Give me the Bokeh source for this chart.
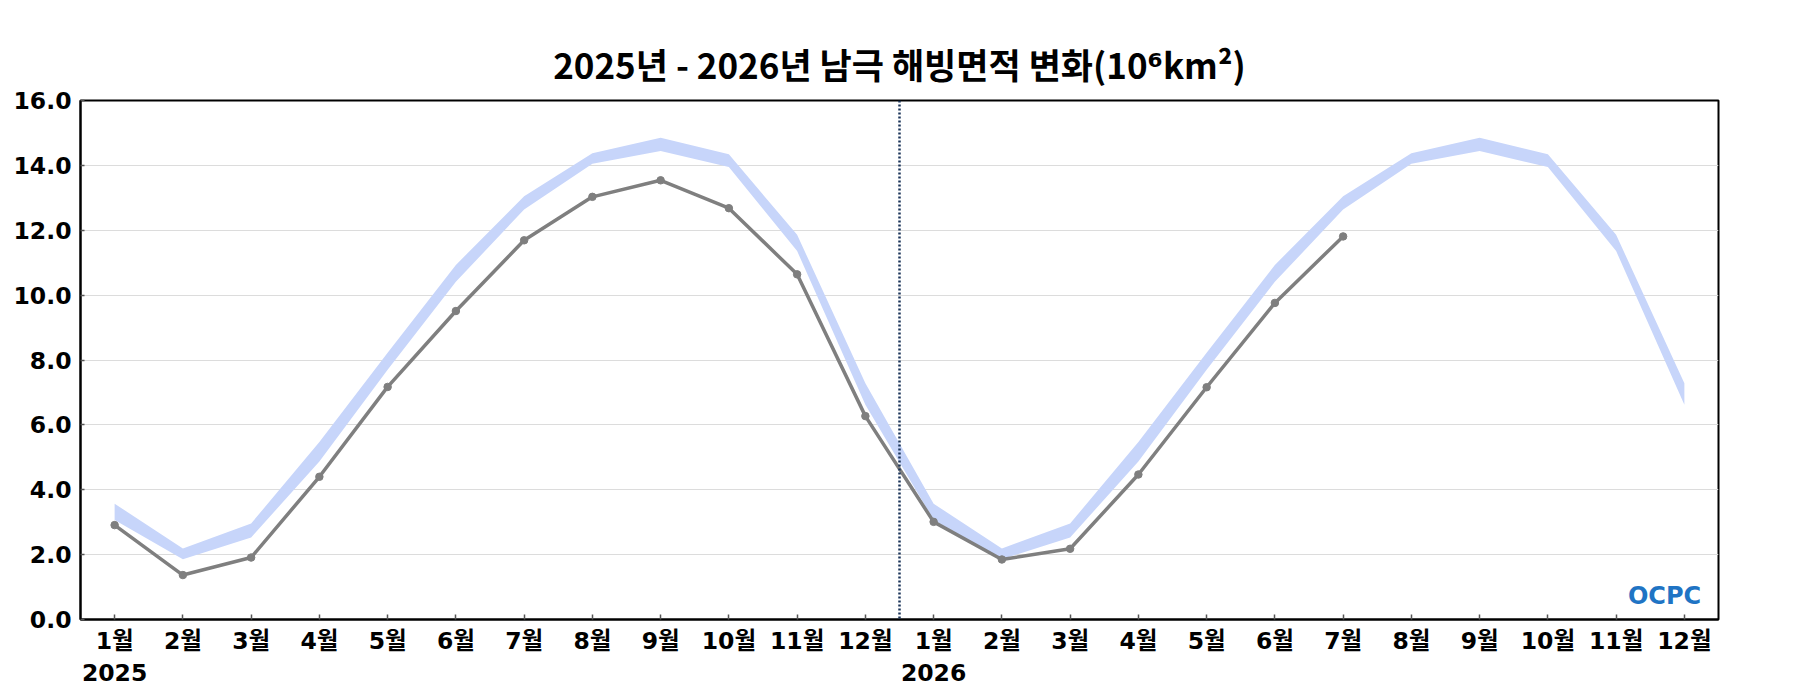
from bokeh.plotting import figure
from bokeh.models import (Range1d, FixedTicker, NumeralTickFormatter, Span, Label,
                          ColumnDataSource)
from bokeh.embed import file_html
from bokeh.resources import INLINE

# ---- data ----
month_labels = ["1월", "2월", "3월", "4월", "5월", "6월", "7월", "8월", "9월", "10월", "11월", "12월"]
years = ["2025", "2026"]

# climatological band (upper / lower edge), 10^6 km^2
band_upper_2025 = [3.57, 2.19, 2.96, 5.47, 8.22, 10.93, 13.05, 14.37, 14.85, 14.34, 11.86, 7.28]
band_lower_2025 = [3.07, 1.86, 2.53, 4.87, 7.70, 10.41, 12.64, 14.05, 14.44, 13.95, 11.36, 6.62]
band_upper_2026 = [3.57, 2.19, 2.96, 5.47, 8.22, 10.93, 13.05, 14.37, 14.85, 14.34, 11.86, 7.28]
band_lower_2026 = [3.07, 1.86, 2.53, 4.87, 7.70, 10.41, 12.64, 14.05, 14.44, 13.95, 11.36, 6.62]

# observed sea ice extent
obs_2025 = [2.91, 1.37, 1.91, 4.40, 7.17, 9.51, 11.69, 13.03, 13.54, 12.68, 10.64, 6.27]
obs_2026 = [3.01, 1.85, 2.18, 4.47, 7.16, 9.76, 11.81]

title_text = "2025년 - 2026년 남극 해빙면적 변화(10\u2076km\u00b2)"
y_ticks = [0, 2, 4, 6, 8, 10, 12, 14, 16]

# ---- build ----
n_months = len(month_labels) * len(years)
x_all = list(range(n_months))
band_upper = band_upper_2025 + band_upper_2026
band_lower = band_lower_2025 + band_lower_2026
obs = obs_2025 + obs_2026
x_obs = x_all[:len(obs)]

tick_font = "DejaVu Sans, Noto Sans CJK KR"

p = figure(width=1784, height=692, output_backend="svg", toolbar_location=None,
           x_range=Range1d(-0.5, n_months - 0.5), y_range=Range1d(0, 16),
           min_border_left=80, min_border_right=66, min_border_top=100, min_border_bottom=73)

p.title.text = title_text
p.title.align = "center"
p.title.text_font = "Noto Sans CJK KR, DejaVu Sans"
p.title.text_font_style = "bold"
p.title.text_font_size = "35px"
p.title.text_color = "black"
p.title.standoff = 24

p.outline_line_color = "black"
p.outline_line_width = 2
p.background_fill_color = "white"
p.border_fill_color = "white"

# band
p.varea(x=x_all, y1=band_lower, y2=band_upper, fill_color="#c7d5fa", fill_alpha=1.0)

# observed
src = ColumnDataSource(dict(x=x_obs, y=obs))
p.line("x", "y", source=src, line_color="#7f7f7f", line_width=3.5)
p.scatter("x", "y", source=src, size=7.5, marker="circle", fill_color="#7f7f7f", line_color="#7f7f7f")

# year divider
p.add_layout(Span(location=len(month_labels) - 0.5, dimension="height",
                  line_color="#1a3358", line_dash="2 2", line_width=2.5))

# logo
p.add_layout(Label(x=1584, y=24, x_units="screen", y_units="screen", text="OCPC",
                   text_color="#1f74c4", text_font="DejaVu Sans", text_font_style="bold",
                   text_font_size="24px", text_align="center", text_baseline="middle"))

# x axis
overrides = {}
for i in range(n_months):
    lab = month_labels[i % len(month_labels)]
    if i % len(month_labels) == 0:
        lab = lab + "\n" + years[i // len(month_labels)]
    overrides[i] = lab
p.xaxis.ticker = FixedTicker(ticks=x_all)
p.xaxis.major_label_overrides = overrides
p.xaxis.major_label_text_font = tick_font
p.xaxis.major_label_text_font_style = "bold"
p.xaxis.major_label_text_font_size = "23.5px"
p.xaxis.major_label_text_color = "black"
p.xaxis.major_label_text_line_height = 1.15
p.xaxis.major_label_standoff = 7
p.xaxis.major_tick_in = 5
p.xaxis.major_tick_out = 0
p.xaxis.major_tick_line_color = "#555555"
p.xaxis.major_tick_line_width = 1.5
p.xaxis.minor_tick_line_color = None
p.xaxis.axis_line_color = "black"
p.xaxis.axis_line_width = 2

# y axis
p.yaxis.ticker = FixedTicker(ticks=y_ticks)
p.yaxis.formatter = NumeralTickFormatter(format="0.0")
p.yaxis.major_label_text_font = tick_font
p.yaxis.major_label_text_font_style = "bold"
p.yaxis.major_label_text_font_size = "23.5px"
p.yaxis.major_label_text_color = "black"
p.yaxis.major_label_standoff = 9
p.yaxis.major_tick_in = 4
p.yaxis.major_tick_out = 0
p.yaxis.major_tick_line_color = "#555555"
p.yaxis.major_tick_line_width = 1.5
p.yaxis.minor_tick_line_color = None
p.yaxis.axis_line_color = "black"
p.yaxis.axis_line_width = 2

p.xgrid.grid_line_color = None
p.ygrid.grid_line_color = "#dcdcdc"
p.ygrid.grid_line_width = 1.2

open("out.html", "w").write(file_html(p, INLINE))
